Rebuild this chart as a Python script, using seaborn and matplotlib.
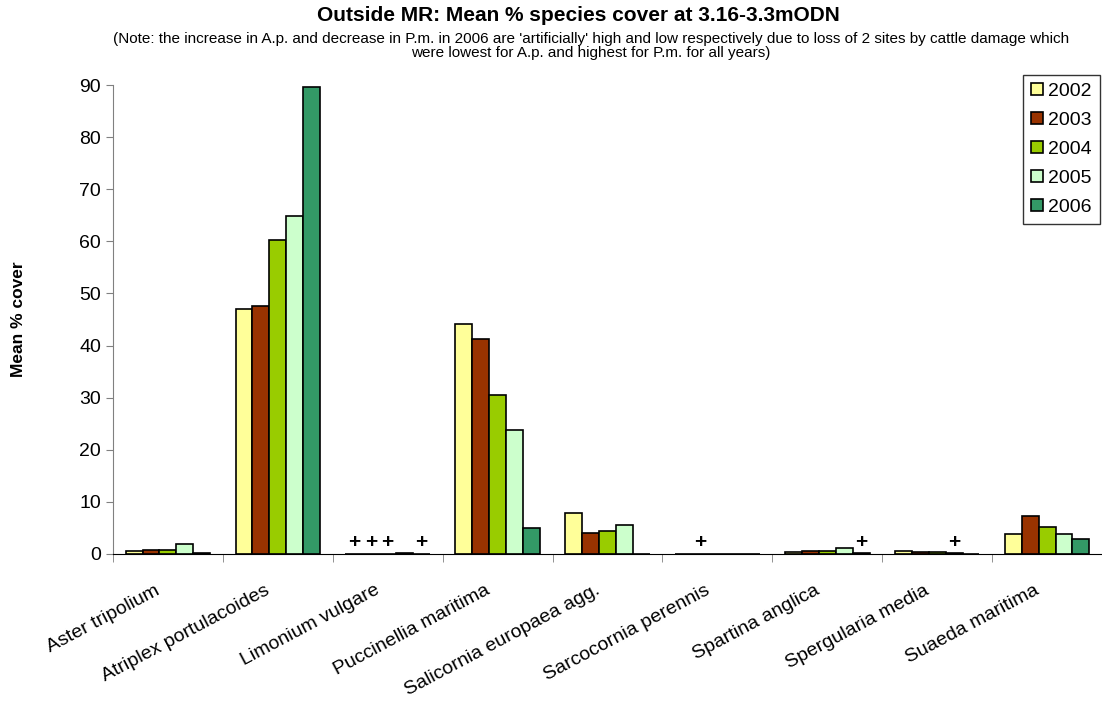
import numpy as np
import pandas as pd
import seaborn as sns
import matplotlib.pyplot as plt
import matplotlib.transforms as mtransforms
from matplotlib.ticker import FixedLocator

species = ["Aster tripolium", "Atriplex portulacoides", "Limonium vulgare",
           "Puccinellia maritima", "Salicornia europaea agg.", "Sarcocornia perennis",
           "Spartina anglica", "Spergularia media", "Suaeda maritima"]
years = ["2002", "2003", "2004", "2005", "2006"]

cover_2002 = [0.6, 47.1, 0.0, 44.1, 7.9, 0.0, 0.4, 0.5, 3.9]
cover_2003 = [0.8, 47.6, 0.0, 41.2, 4.1, 0.0, 0.5, 0.3, 7.3]
cover_2004 = [0.8, 60.2, 0.0, 30.6, 4.5, 0.0, 0.6, 0.3, 5.1]
cover_2005 = [1.9, 64.9, 0.2, 23.7, 5.6, 0.0, 1.1, 0.1, 3.8]
cover_2006 = [0.2, 89.6, 0.0, 5.0, 0.0, 0.0, 0.1, 0.0, 2.9]

# species present only as a trace ("+" on the chart)
trace_species = ["Limonium vulgare", "Limonium vulgare", "Limonium vulgare", "Limonium vulgare",
                 "Sarcocornia perennis", "Spartina anglica", "Spergularia media"]
trace_years = ["2002", "2003", "2004", "2006", "2003", "2006", "2005"]

colors = ["#FFFF99", "#993300", "#99CC00", "#CCFFCC", "#339966"]

plt.rcParams['font.family'] = ['Liberation Sans', 'DejaVu Sans']

df = pd.DataFrame({"Species": species, "2002": cover_2002, "2003": cover_2003,
                   "2004": cover_2004, "2005": cover_2005, "2006": cover_2006})
long = df.melt(id_vars="Species", var_name="Year", value_name="Cover")

fig = plt.figure(figsize=(11.02, 7.09), dpi=100)
ax = fig.add_axes([113 / 1102, 1 - 554 / 709, 1 - 113 / 1102, (554 - 85) / 709])

sns.barplot(data=long, x="Species", y="Cover", hue="Year", order=species,
            hue_order=years, palette=colors, width=0.77, saturation=1,
            edgecolor="black", linewidth=1.2, ax=ax, errorbar=None)

# trace markers above the matching bars
for sp, yr in zip(trace_species, trace_years):
    bar = ax.containers[years.index(yr)][species.index(sp)]
    ax.text(bar.get_x() + bar.get_width() / 2, 2.3, "+", ha="center", va="center",
            fontsize=15, fontweight="bold")

ax.set_ylim(0, 90)
ax.set_xlim(-0.5, len(species) - 0.5)
ax.set_yticks(np.arange(0, 91, 10))
ax.tick_params(axis="y", labelsize=14, length=5, color="#808080")
ax.tick_params(axis="x", which="major", length=0, labelsize=14, pad=20)
ax.xaxis.set_minor_locator(FixedLocator(np.arange(-0.5, len(species), 1)))
ax.tick_params(axis="x", which="minor", length=6, color="#808080")

# shift the rotated labels a little left, like the original
shift = mtransforms.ScaledTranslation(-0.13, 0, fig.dpi_scale_trans)
for lab in ax.get_xticklabels():
    lab.set_rotation(28)
    lab.set_ha("right")
    lab.set_rotation_mode("anchor")
    lab.set_transform(lab.get_transform() + shift)

sns.despine(ax=ax, top=True, right=True)
ax.spines["left"].set_color("#808080")
ax.spines["bottom"].set_color("black")

ax.set_xlabel("")
ax.set_ylabel("")
fig.text(0.017, 0.55, "Mean % cover", rotation=90, ha="center", va="center",
         fontsize=12.5, fontweight="bold")

fig.text(0.525, 0.978, "Outside MR: Mean % species cover at 3.16-3.3mODN",
         ha="center", va="center", fontsize=15, fontweight="bold")
fig.text(0.536, 0.935,
         "(Note: the increase in A.p. and decrease in P.m. in 2006 are 'artificially' high and low respectively due to loss of 2 sites by cattle damage which\n"
         "were lowest for A.p. and highest for P.m. for all years)",
         ha="center", va="center", fontsize=11, linespacing=1.05)

leg = ax.legend(loc="upper right", bbox_to_anchor=(1 - 0.002, 1 - 75 / 709),
                bbox_transform=fig.transFigure, fontsize=14, frameon=True,
                fancybox=False, edgecolor="black", handlelength=0.6,
                handleheight=0.6, handletextpad=0.3, labelspacing=0.62,
                borderpad=0.4, borderaxespad=0)
leg.get_frame().set_linewidth(1.0)

fig.savefig("out.png", dpi=100)
